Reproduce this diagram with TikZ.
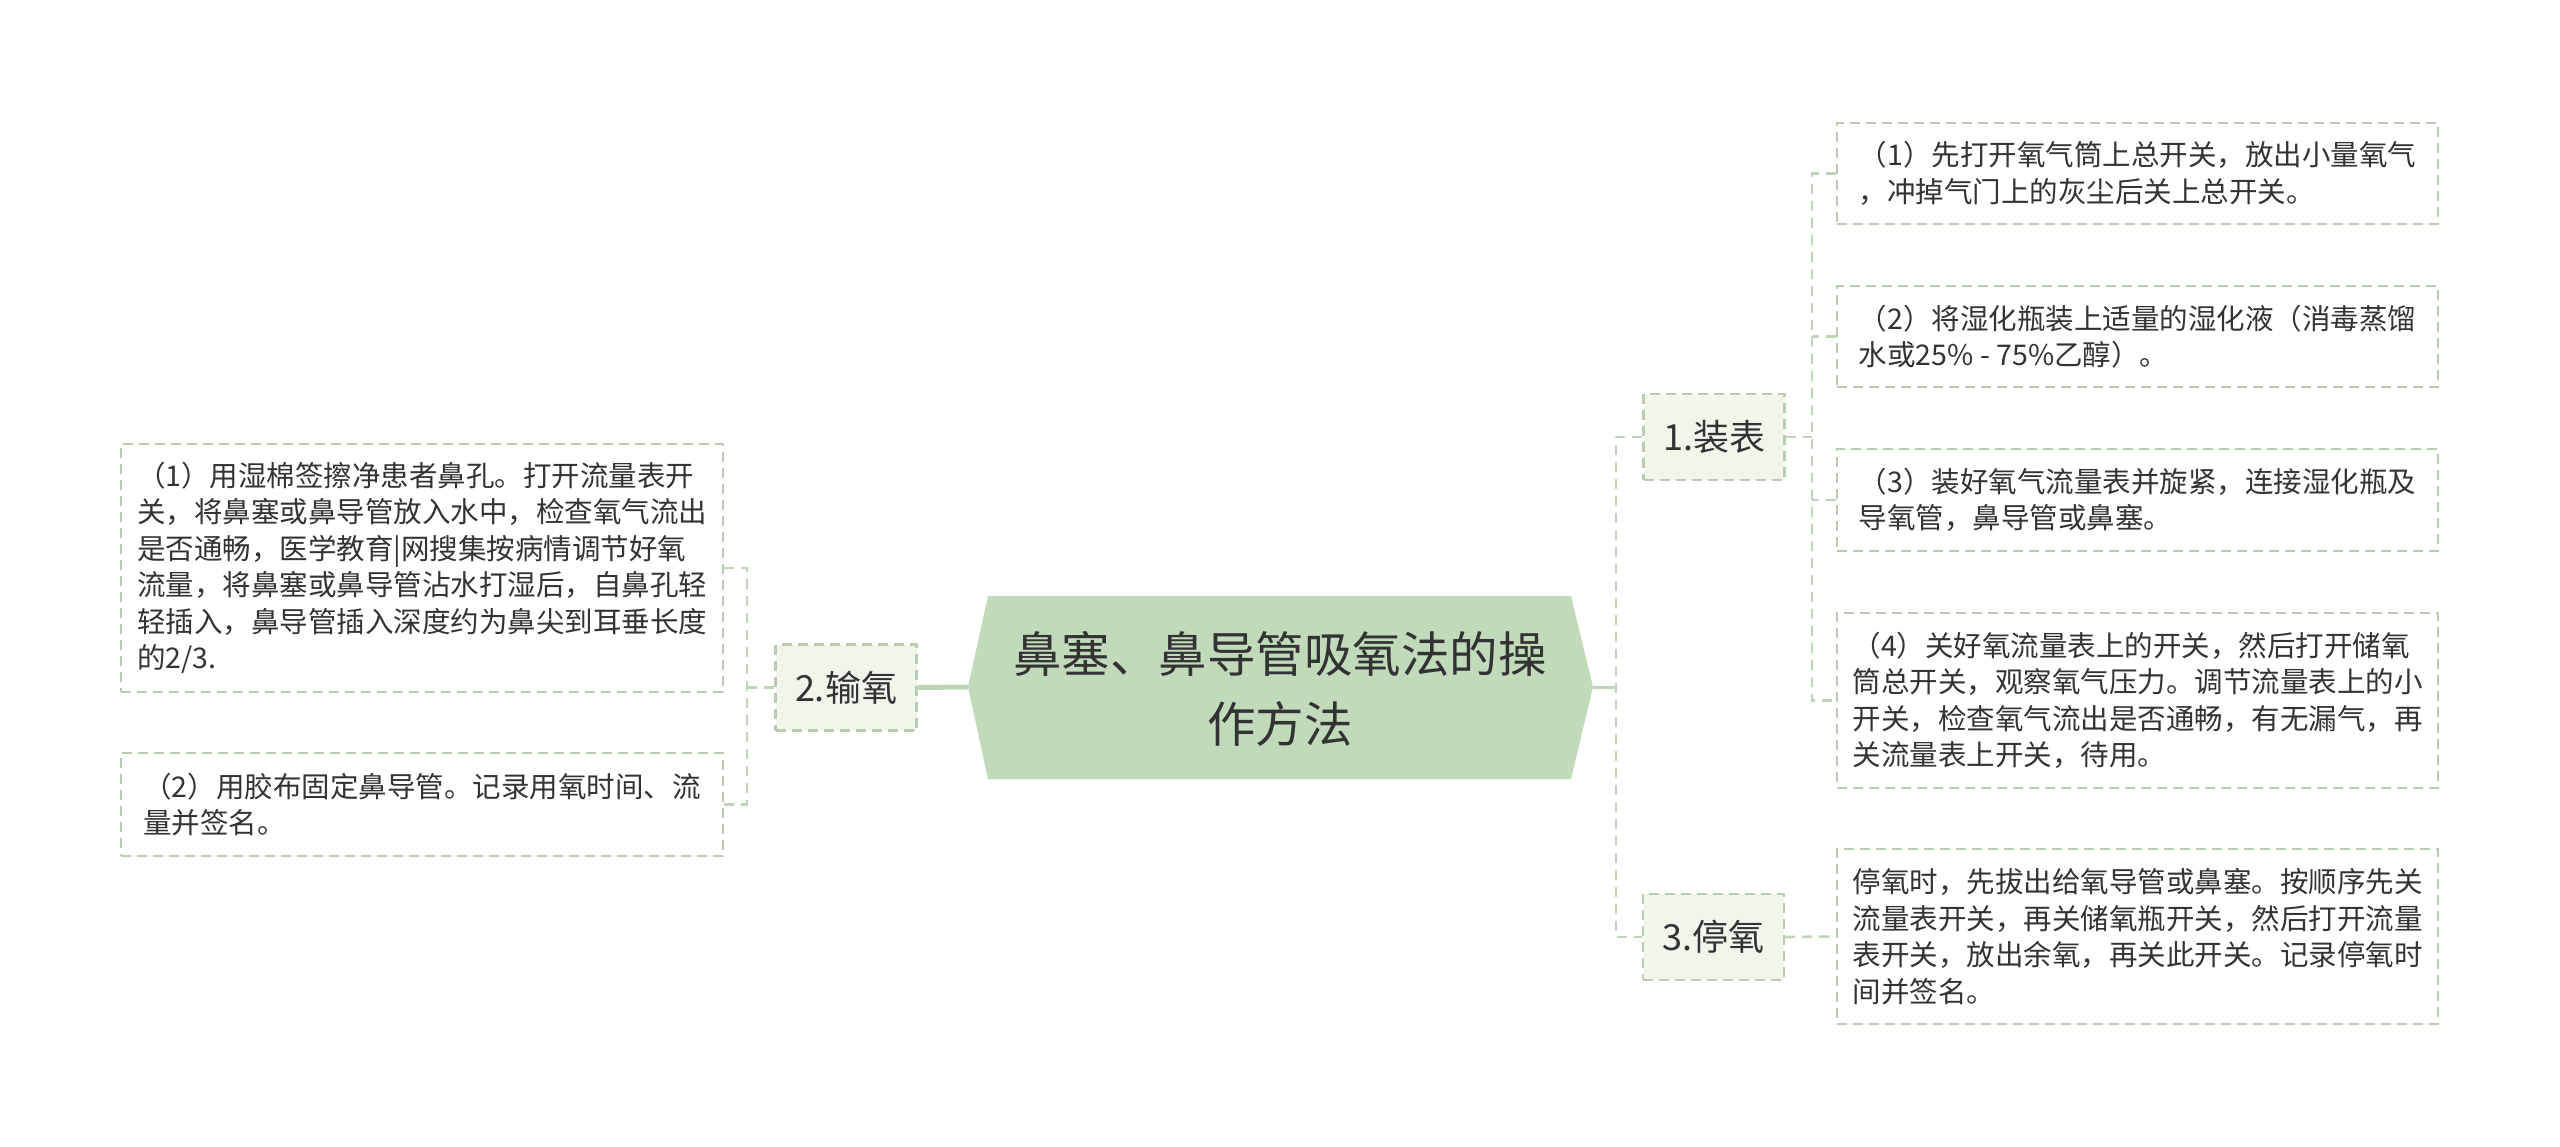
\documentclass[tikz,border=0pt]{standalone}
\usepackage{fontspec}
\setmainfont{Noto Sans CJK SC}
\definecolor{rootfill}{RGB}{193,218,186}
\definecolor{subfill}{RGB}{240,246,234}
\definecolor{bordc}{RGB}{184,204,178}
\definecolor{connc}{RGB}{190,213,183}
\definecolor{txtc}{RGB}{51,51,51}
\begin{document}
\begin{tikzpicture}[x=1pt,y=-1pt,
  txtbox/.style={draw=bordc,line width=2.2pt,dash pattern=on 10pt off 6pt,
    rectangle,inner sep=0pt,align=left,text=txtc,
    font=\fontsize{28.5}{36.5}\selectfont},
  subbox/.style={draw=bordc,fill=subfill,line width=2.2pt,dash pattern=on 10pt off 6pt,
    rectangle,inner sep=0pt,minimum width=141pt,minimum height=86pt,text=txtc,
    font=\fontsize{36}{44}\selectfont},
  conn/.style={draw=connc,line width=2.6pt,dash pattern=on 10pt off 7pt},
  solidconn/.style={draw=connc,line width=3pt},
  rootconn/.style={draw=connc,line width=5pt}]
\useasboundingbox (0,0) rectangle (2560,1147);
\fill[white] (0,0) rectangle (2560,1147);

% root
\fill[rootfill] (988,596) -- (1571,596) -- (1593,687) -- (1571,779) -- (988,779) -- (968,687) -- cycle;
\node[align=center,text=txtc,font=\fontsize{48.5}{70}\selectfont] (root) at (1280,689)
  {鼻塞、鼻导管吸氧法的操\\作方法};
\coordinate (rootL) at (968,687);
\coordinate (rootR) at (1593,687);

% level-1 nodes
\node[subbox] (n1) at (1714,437) {1.装表};
\node[subbox] (n2) at (846,687.5) {2.输氧};
\node[subbox] (n3) at (1713.5,937) {3.停氧};

% right text boxes
\node[txtbox,minimum width=601pt,minimum height=101pt] (r1) at (2137.5,173.5)
  {（1）先打开氧气筒上总开关，放出小量氧气\\，冲掉气门上的灰尘后关上总开关。};
\node[txtbox,minimum width=601pt,minimum height=101pt] (r2) at (2137.5,336.5)
  {（2）将湿化瓶装上适量的湿化液（消毒蒸馏\\水或25\% - 75\%乙醇）。};
\node[txtbox,minimum width=601pt,minimum height=102pt] (r3) at (2137.5,500)
  {（3）装好氧气流量表并旋紧，连接湿化瓶及\\导氧管，鼻导管或鼻塞。};
\node[txtbox,minimum width=601pt,minimum height=175pt] (r4) at (2137.5,700.5)
  {（4）关好氧流量表上的开关，然后打开储氧\\筒总开关，观察氧气压力。调节流量表上的小\\开关，检查氧气流出是否通畅，有无漏气，再\\关流量表上开关，待用。};
\node[txtbox,minimum width=601pt,minimum height=175pt] (r5) at (2137.5,936.5)
  {停氧时，先拔出给氧导管或鼻塞。按顺序先关\\流量表开关，再关储氧瓶开关，然后打开流量\\表开关，放出余氧，再关此开关。记录停氧时\\间并签名。};

% left text boxes
\node[txtbox,minimum width=602pt,minimum height=248pt] (l1) at (422,568)
  {（1）用湿棉签擦净患者鼻孔。打开流量表开\\关，将鼻塞或鼻导管放入水中，检查氧气流出\\是否通畅，医学教育|网搜集按病情调节好氧\\流量，将鼻塞或鼻导管沾水打湿后，自鼻孔轻\\轻插入，鼻导管插入深度约为鼻尖到耳垂长度\\的2/3.};
\node[txtbox,minimum width=602pt,minimum height=103pt] (l2) at (422,804.5)
  {（2）用胶布固定鼻导管。记录用氧时间、流\\量并签名。};

% connectors
\coordinate (trR) at (1616,687);
\coordinate (t1) at (1812,437);
\coordinate (t2) at (747,687.5);

\draw[rootconn] (rootL) -- (n2.east);
\draw[solidconn] (rootR) -- (trR);
\draw[conn] (n1.west) -| (trR) |- (n3.west);

\draw[conn] (n1.east) -- (t1);
\draw[conn] (r1.west) -| (t1) |- (r4.west);
\draw[conn] (r2.west) -- (r2.west -| t1);
\draw[conn] (r3.west) -- (r3.west -| t1);

\draw[conn] (n3.east) -- (r5.west);

\draw[conn] (n2.west) -- (t2);
\draw[conn] (l1.east) -| (t2) |- (l2.east);
\end{tikzpicture}
\end{document}
